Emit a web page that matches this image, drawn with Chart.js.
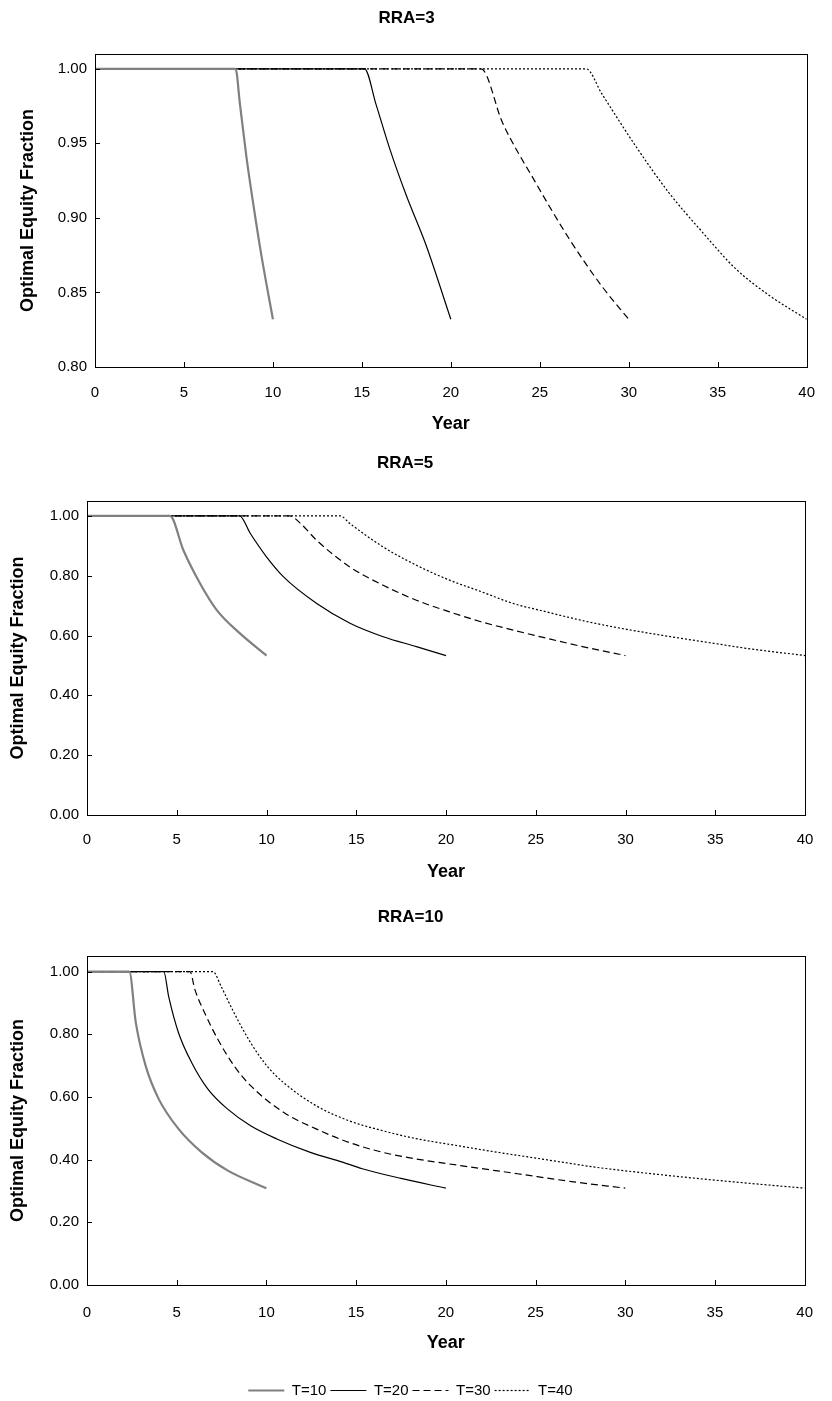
<!DOCTYPE html>
<html>
<head>
<meta charset="utf-8">
<script src="https://cdn.jsdelivr.net/npm/chart.js@4.4.1/dist/chart.umd.min.js"></script>
<style>
  html, body { margin: 0; background: #fff; overflow: hidden; }
  canvas { display: block; }
</style>
</head>
<body>
<canvas id="c1" width="832" height="440"></canvas>
<canvas id="c2" width="832" height="450"></canvas>
<canvas id="c3" width="832" height="518"></canvas>
<script>
const seriesLabels = ['T=10', 'T=20', 'T=30', 'T=40'];

// RRA=3
const rra3T10Year = [0, 7.9, 8.15, 8.5, 8.9, 9.35, 10];
const rra3T10Frac = [1, 1, 0.976, 0.942, 0.909, 0.875, 0.832];
const rra3T20Year = [0, 15.15, 15.8, 16.55, 17.5, 18.6, 20];
const rra3T20Frac = [1, 1, 0.976, 0.947, 0.915, 0.882, 0.832];
const rra3T30Year = [0, 21.7, 22.9, 24.75, 26.65, 28.5, 30];
const rra3T30Frac = [1, 1, 0.964, 0.924, 0.886, 0.854, 0.832];
const rra3T40Year = [0, 27.6, 28.5, 30.4, 32.25, 34.1, 36, 37.9, 40];
const rra3T40Frac = [1, 1, 0.983, 0.948, 0.917, 0.891, 0.866, 0.848, 0.832];

// RRA=5
const rra5T10Year = [0, 4.62, 5.37, 6.3, 7.23, 8.52, 10];
const rra5T10Frac = [1, 1, 0.885, 0.774, 0.685, 0.607, 0.533];
const rra5T20Year = [0, 8.5, 9.1, 10, 10.95, 12.8, 14.65, 16.5, 18.35, 20];
const rra5T20Frac = [1, 1, 0.941, 0.863, 0.796, 0.707, 0.641, 0.596, 0.563, 0.533];
const rra5T30Year = [0, 11.3, 11.9, 12.8, 14.65, 16.5, 18.35, 20.2, 21.9, 23.75, 25.6, 27.45, 30];
const rra5T30Frac = [1, 1, 0.974, 0.918, 0.829, 0.768, 0.718, 0.679, 0.647, 0.618, 0.591, 0.565, 0.533];
const rra5T40Year = [0, 14.1, 14.65, 16.5, 18.35, 20.2, 21.9, 23.75, 25.6, 27.45, 29.3, 31.2, 33.05, 34.9, 36.75, 40];
const rra5T40Frac = [1, 1, 0.974, 0.896, 0.835, 0.785, 0.748, 0.707, 0.679, 0.652, 0.629, 0.609, 0.591, 0.574, 0.557, 0.533];

// RRA=10
const rra10T10Year = [0, 2.36, 2.72, 3.27, 4.0, 5.1, 6.38, 7.85, 10];
const rra10T10Frac = [1, 1, 0.837, 0.699, 0.593, 0.498, 0.424, 0.365, 0.309];
const rra10T20Year = [0, 4.28, 4.55, 5.1, 5.83, 6.74, 7.84, 9.12, 10.58, 12.41, 14.24, 15.34, 17.5, 20];
const rra10T20Frac = [1, 1, 0.921, 0.805, 0.71, 0.625, 0.561, 0.508, 0.466, 0.424, 0.392, 0.371, 0.34, 0.309];
const rra10T30Year = [0, 5.74, 6.01, 6.56, 7.29, 8.2, 9.12, 10.95, 12.77, 14.6, 16.43, 18.26, 20.82, 24, 27, 30];
const rra10T30Frac = [1, 1, 0.943, 0.868, 0.784, 0.699, 0.636, 0.551, 0.498, 0.455, 0.424, 0.403, 0.381, 0.355, 0.33, 0.309];
const rra10T40Year = [0, 7.02, 7.47, 8.2, 9.12, 10.03, 10.95, 12.77, 14.6, 16.43, 18.26, 20.82, 22.82, 24.65, 26.48, 28.31, 31, 34, 37, 40];
const rra10T40Frac = [1, 1, 0.953, 0.868, 0.773, 0.699, 0.646, 0.572, 0.524, 0.493, 0.468, 0.443, 0.424, 0.408, 0.392, 0.376, 0.358, 0.34, 0.324, 0.309];

Chart.defaults.font.family = 'Arial, "Liberation Sans", sans-serif';
Chart.defaults.color = '#000';

const lineStyles = [
  { borderColor: '#808080', borderWidth: 2.2, borderDash: [] },
  { borderColor: '#000', borderWidth: 1.2, borderDash: [] },
  { borderColor: '#000', borderWidth: 1.2, borderDash: [7, 4] },
  { borderColor: '#000', borderWidth: 1.2, borderDash: [2, 2] }
];

function pts(xs, ys) {
  return xs.map((x, i) => ({ x: x, y: ys[i] }));
}

function makeDatasets(series) {
  return series.map((s, i) => ({
    label: seriesLabels[i],
    data: pts(s[0], s[1]),
    borderColor: lineStyles[i].borderColor,
    borderWidth: lineStyles[i].borderWidth,
    borderDash: lineStyles[i].borderDash,
    pointRadius: 0,
    cubicInterpolationMode: 'monotone',
    fill: false
  }));
}

// box round the plot area plus short tick marks pointing inward
const frameTicks = {
  id: 'frameTicks',
  afterDraw(chart) {
    const { ctx, chartArea: a, scales: { x, y } } = chart;
    ctx.save();
    ctx.strokeStyle = '#000';
    ctx.lineWidth = 1;
    ctx.setLineDash([]);
    ctx.strokeRect(Math.round(a.left) + 0.5, Math.round(a.top) + 0.5,
      Math.round(a.right - a.left), Math.round(a.bottom - a.top));
    ctx.beginPath();
    x.ticks.forEach(t => {
      const px = Math.round(x.getPixelForValue(t.value)) + 0.5;
      ctx.moveTo(px, a.bottom);
      ctx.lineTo(px, a.bottom - 5);
    });
    y.ticks.forEach(t => {
      const py = Math.round(y.getPixelForValue(t.value)) + 0.5;
      ctx.moveTo(a.left, py);
      ctx.lineTo(a.left + 5, py);
    });
    ctx.stroke();
    ctx.restore();
  }
};

function makeChart(id, cfg) {
  return new Chart(document.getElementById(id), {
    type: 'line',
    data: { datasets: makeDatasets(cfg.series) },
    options: {
      responsive: false,
      animation: false,
      layout: { padding: { left: 5, right: cfg.padRight, top: 0, bottom: 0 } },
      plugins: {
        title: {
          display: true,
          text: cfg.title,
          font: { size: 17, weight: 'bold' },
          padding: { top: cfg.titleTop, bottom: cfg.titleBottom }
        },
        legend: cfg.legend ? {
          display: true,
          position: 'bottom',
          labels: {
            usePointStyle: true,
            pointStyle: 'line',
            pointStyleWidth: 36,
            padding: 4,
            font: { size: 15 },
            generateLabels(chart) {
              const items = Chart.defaults.plugins.legend.labels.generateLabels(chart);
              items.forEach(it => {
                const ds = chart.data.datasets[it.datasetIndex];
                it.lineDash = ds.borderDash;
                it.lineWidth = ds.borderWidth;
                it.strokeStyle = ds.borderColor;
                it.pointStyle = 'line';
              });
              return items;
            }
          }
        } : { display: false },
        tooltip: { enabled: false }
      },
      scales: {
        x: {
          type: 'linear',
          min: 0,
          max: 40,
          ticks: { stepSize: 5, padding: cfg.xTickPad, font: { size: 15 } },
          grid: { display: false, drawTicks: false },
          border: { display: false },
          title: {
            display: true,
            text: 'Year',
            font: { size: 18, weight: 'bold' },
            padding: { top: 0, bottom: cfg.xTitleBottom }
          },
          afterFit(s) { s.height = cfg.xHeight; }
        },
        y: {
          min: cfg.yMin,
          max: cfg.yMax,
          ticks: {
            stepSize: cfg.yStep,
            includeBounds: false,
            padding: 8,
            font: { size: 15 },
            callback: v => v.toFixed(2)
          },
          grid: { display: false, drawTicks: false },
          border: { display: false },
          title: {
            display: true,
            text: 'Optimal Equity Fraction',
            font: { size: 18, weight: 'bold' },
            padding: { top: cfg.yTitlePad, bottom: 0 }
          },
          afterFit(s) { s.width = cfg.yWidth; }
        }
      }
    },
    plugins: [frameTicks]
  });
}

makeChart('c1', {
  title: 'RRA=3',
  series: [[rra3T10Year, rra3T10Frac], [rra3T20Year, rra3T20Frac], [rra3T30Year, rra3T30Frac], [rra3T40Year, rra3T40Frac]],
  yMin: 0.8, yMax: 1.01, yStep: 0.05,
  padRight: 24,
  titleTop: 8, titleBottom: 25.5,
  yWidth: 90, yTitlePad: 12,
  xHeight: 73, xTickPad: 17, xTitleBottom: 5
});

makeChart('c2', {
  title: 'RRA=5',
  series: [[rra5T10Year, rra5T10Frac], [rra5T20Year, rra5T20Frac], [rra5T30Year, rra5T30Frac], [rra5T40Year, rra5T40Frac]],
  yMin: 0, yMax: 1.05, yStep: 0.2,
  padRight: 27,
  titleTop: 13, titleBottom: 27.5,
  yWidth: 82, yTitlePad: 2,
  xHeight: 75, xTickPad: 16, xTitleBottom: 7.5
});

makeChart('c3', {
  title: 'RRA=10',
  series: [[rra10T10Year, rra10T10Frac], [rra10T20Year, rra10T20Frac], [rra10T30Year, rra10T30Frac], [rra10T40Year, rra10T40Frac]],
  yMin: 0, yMax: 1.05, yStep: 0.2,
  padRight: 16,
  titleTop: 17, titleBottom: 28.5,
  yWidth: 82, yTitlePad: 2,
  xHeight: 94, xTickPad: 19, xTitleBottom: 25.5,
  legend: true
});
</script>
</body>
</html>
